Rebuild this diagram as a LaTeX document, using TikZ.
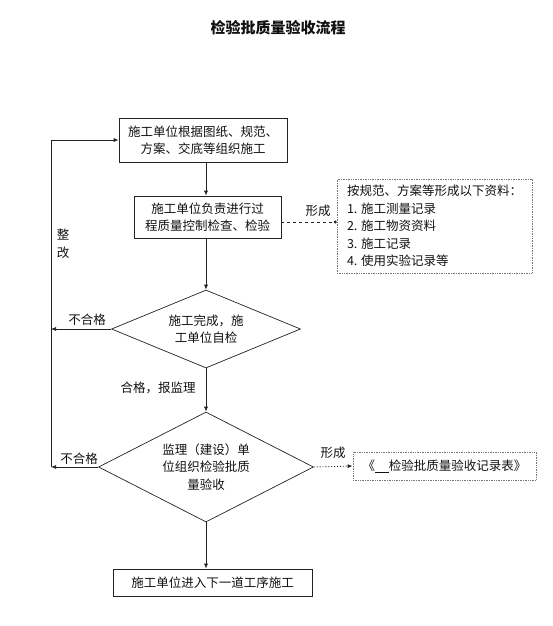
\documentclass[tikz,border=0pt]{standalone}
\usepackage{fontspec}
\setmainfont{Noto Sans CJK SC}
\usepackage{xcolor}
\usepackage{tikz}
\usetikzlibrary{shapes.geometric,arrows.meta}
\definecolor{FlowInk}{HTML}{111111}
\definecolor{FlowLine}{HTML}{222222}
\definecolor{FlowNote}{HTML}{777777}

\begin{document}
\begin{tikzpicture}[x=1pt,y=-1pt,
    every node/.style={text=FlowInk, font=\fontsize{12.5pt}{17.5pt}\selectfont},
    stepbox/.style={draw=FlowLine, line width=0.7pt, align=center, inner sep=0pt},
    notebox/.style={draw=FlowNote, densely dotted, line width=0.7pt, inner sep=0pt},
    checkpoint/.style={diamond, draw=FlowLine, line width=0.7pt, align=center, inner sep=0pt, aspect=2.4},
    flowarrow/.style={draw=FlowLine, line width=0.7pt, -{Latex[length=5pt,width=4pt]}},
    formarrow/.style={draw=FlowLine, line width=0.7pt, dashed, -{Circle[length=3pt]}},
    recordarrow/.style={draw=FlowLine, line width=0.9pt, dotted, -{Latex[length=5pt,width=4pt]}}]
        \useasboundingbox (0,0) rectangle (553,626);
        \node[font=\fontsize{15pt}{18pt}\selectfont\bfseries] (title) at (278,28) {检验批质量验收流程};
        % main steps
        \node[stepbox, minimum width=168, minimum height=44] (build) at (203,140) {施工单位根据图纸、规范、\\方案、交底等组织施工};
        \node[stepbox, minimum width=147, minimum height=42] (check) at (207.5,217) {施工单位负责进行过\\程质量控制检查、检验};
        \node[notebox, minimum width=195, minimum height=94, align=left] (notes) at (434.5,226) {按规范、方案等形成以下资料：\\1. 施工测量记录\\2. 施工物资资料\\3. 施工记录\\4. 使用实验记录等};
        \node[checkpoint, minimum width=189, minimum height=78] (self) at (206,329) {施工完成，施\\工单位自检};
        \node[checkpoint, minimum width=215, minimum height=110] (accept) at (206,467) {监理（建设）单\\位组织检验批质\\量验收};
        \node[notebox, minimum width=183, minimum height=28] (record) at (444.5,466) {《\underline{\hspace{1.1em}}检验批质量验收记录表》};
        \node[stepbox, minimum width=199, minimum height=27] (next) at (212.5,582.5) {施工单位进入下一道工序施工};
        \coordinate (fail1) at (51,329);
        \coordinate (fail2) at (51,467);
        % connectors
        \draw[flowarrow] (self.north |- build.south) -- (self.north |- check.north);
        \draw[flowarrow] (check.south -| self.north) -- (self.north);
        \draw[flowarrow] (self.south) -- (accept.north);
        \draw[flowarrow] (accept.south) -- (accept.south |- next.north);
        \draw[formarrow] (check.east) ++(0,5) -- (notes.west |- 0,222);
        \draw[recordarrow] (accept.east) -- (record.west);
        \draw[flowarrow] (self.west) -- (fail1);
        \draw[flowarrow] (accept.west) -- (fail2);
        \draw[flowarrow] (fail2) |- (build.west);
        % labels
        \node (form1) at (318,211) {形成};
        \node (form2) at (333,453) {形成};
        \node (reject1) at (87,320) {不合格};
        \node (reject2) at (79,459) {不合格};
        \node (pass) at (158,388) {合格，报监理};
        \node[align=center] (redo) at (63,244) {整\\改};
      \end{tikzpicture}
\end{document}
